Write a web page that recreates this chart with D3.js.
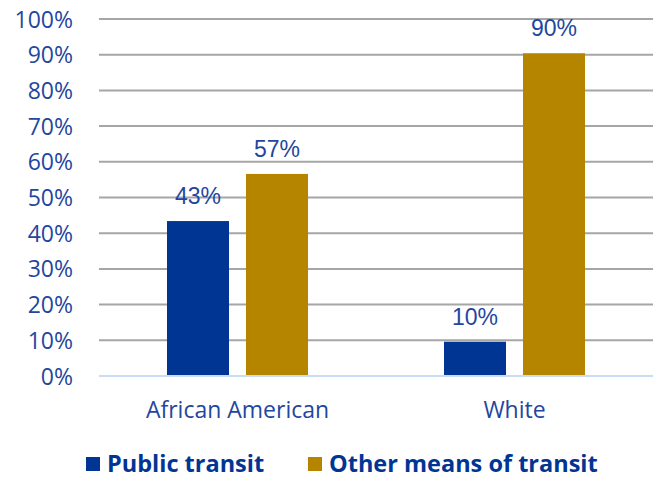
<!DOCTYPE html>
<html><head><meta charset="utf-8">
<script src="https://cdn.jsdelivr.net/npm/d3@7"></script>
<style>body{margin:0;background:#fff}svg{display:block}</style>
</head><body>
<svg id="c" width="653" height="479"></svg>
<script>
const categories = ["African American", "White"];
const seriesNames = ["Public transit", "Other means of transit"];
const publicTransit = [43.4, 9.6];
const otherMeans = [56.6, 90.4];
const valueLabels = [["43%", "57%"], ["10%", "90%"]];
const yTicks = [0,10,20,30,40,50,60,70,80,90,100];
const colors = ["#003594", "#b58500"];
const textColor = "#1f47a0";

const svg = d3.select("#c");
const m = {left: 99, right: 0, top: 19, bottom: 103};
const W = 653, H = 479;
const x = d3.scaleBand().domain(categories).range([m.left, W - m.right]);
const xs = d3.scaleBand().domain(seriesNames).range([0, x.bandwidth()]).paddingInner(0.2152).paddingOuter(0.8608);
const y = d3.scaleLinear().domain([0, 100]).range([H - m.bottom, m.top]);

// grid
svg.append("g").selectAll("line").data(yTicks.filter(d => d > 0)).join("line")
  .attr("x1", m.left).attr("x2", W - m.right)
  .attr("y1", d => y(d)).attr("y2", d => y(d))
  .attr("stroke", "#a6a6a6").attr("stroke-width", 2);

// y axis labels
const yAxis = d3.axisLeft(y).tickValues(yTicks).tickFormat(d => d + "%").tickSize(0).tickPadding(26);
const ga = svg.append("g").attr("transform", `translate(${m.left},0)`).call(yAxis);
ga.select(".domain").remove();
ga.selectAll("text").attr("font-family", "'Open Sans', sans-serif").attr("font-size", 23)
  .attr("fill", textColor).attr("dy", "0.35em");

const data = categories.map((c, i) => ({c, vals: [publicTransit[i], otherMeans[i]], labels: valueLabels[i]}));

const groups = svg.append("g").selectAll("g").data(data).join("g")
  .attr("transform", d => `translate(${x(d.c)},0)`);

groups.selectAll("rect").data(d => d.vals.map((v, j) => ({v, s: seriesNames[j], j}))).join("rect")
  .attr("x", d => xs(d.s)).attr("width", xs.bandwidth())
  .attr("y", d => y(d.v)).attr("height", d => y(0) - y(d.v))
  .attr("fill", d => colors[d.j]);

groups.selectAll("text.vl").data(d => d.vals.map((v, j) => ({v, s: seriesNames[j], l: d.labels[j]}))).join("text")
  .attr("class", "vl")
  .attr("x", d => xs(d.s) + xs.bandwidth() / 2).attr("y", d => y(d.v) - 17)
  .attr("text-anchor", "middle").attr("font-family", "'Liberation Sans', Arial, sans-serif")
  .attr("font-size", 23).attr("fill", textColor).text(d => d.l);

// baseline
svg.append("line").attr("x1", m.left).attr("x2", W - m.right)
  .attr("y1", y(0)).attr("y2", y(0)).attr("stroke", "#c9dcf5").attr("stroke-width", 2);

// x axis labels
const xAxis = d3.axisBottom(x).tickSize(0);
const gx = svg.append("g").attr("transform", `translate(0,${y(0)})`).call(xAxis);
gx.select(".domain").remove();
gx.selectAll("text").attr("y", 42).attr("dy", 0)
  .attr("font-family", "'Open Sans', sans-serif").attr("font-size", 23).attr("fill", textColor);

// legend
const legX = [86, 308];
const leg = svg.append("g").selectAll("g").data(seriesNames).join("g")
  .attr("transform", (d, i) => `translate(${legX[i]},457)`);
leg.append("rect").attr("width", 14).attr("height", 14).attr("fill", (d, i) => colors[i]);
leg.append("text").attr("x", 21).attr("y", 15)
  .attr("font-family", "'Open Sans', sans-serif").attr("font-weight", "bold").attr("font-size", 23.5)
  .attr("fill", "#003594").text(d => d);
</script>
</body></html>
